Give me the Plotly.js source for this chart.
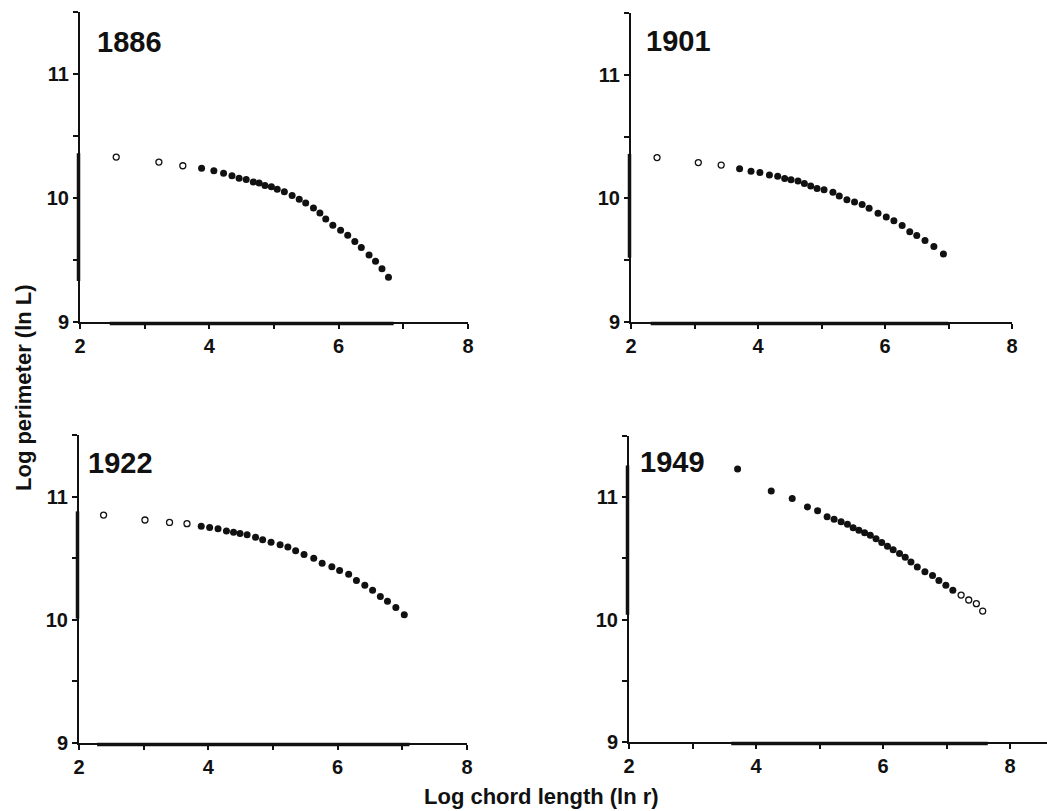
<!DOCTYPE html>
<html>
<head>
<meta charset="utf-8">
<script src="https://cdn.plot.ly/plotly-3.0.1.min.js"></script>
<style>html,body{margin:0;padding:0;background:#fff;}#chart{width:1047px;height:811px;}</style>
</head>
<body>
<div id="chart"></div>
<script>
// ---- Data ----
const years = ["1886", "1901", "1922", "1949"];

// 1886
const x1886Open = [2.56, 3.22, 3.59];
const y1886Open = [10.33, 10.29, 10.26];
const x1886 = [3.88, 4.07, 4.22, 4.35, 4.46, 4.57, 4.68, 4.77, 4.86, 4.96, 5.05, 5.16, 5.28, 5.39, 5.49, 5.61, 5.71, 5.80, 5.91, 6.03, 6.14, 6.25, 6.35, 6.47, 6.57, 6.67, 6.77];
const y1886 = [10.24, 10.22, 10.20, 10.18, 10.16, 10.15, 10.13, 10.12, 10.10, 10.09, 10.07, 10.05, 10.02, 9.99, 9.96, 9.92, 9.88, 9.83, 9.78, 9.74, 9.70, 9.65, 9.60, 9.54, 9.49, 9.43, 9.36];

// 1901
const x1901Open = [2.41, 3.06, 3.42];
const y1901Open = [10.33, 10.29, 10.27];
const x1901 = [3.71, 3.89, 4.03, 4.18, 4.31, 4.42, 4.52, 4.63, 4.73, 4.83, 4.93, 5.04, 5.18, 5.28, 5.40, 5.52, 5.64, 5.75, 5.89, 6.02, 6.14, 6.27, 6.39, 6.50, 6.63, 6.77, 6.92];
const y1901 = [10.24, 10.22, 10.21, 10.19, 10.18, 10.16, 10.15, 10.14, 10.12, 10.10, 10.08, 10.07, 10.05, 10.02, 9.99, 9.97, 9.95, 9.92, 9.88, 9.85, 9.82, 9.78, 9.73, 9.70, 9.66, 9.61, 9.55];

// 1922
const x1922Open = [2.38, 3.02, 3.40, 3.67];
const y1922Open = [10.85, 10.81, 10.79, 10.78];
const x1922 = [3.89, 4.02, 4.15, 4.28, 4.39, 4.49, 4.60, 4.73, 4.84, 4.97, 5.11, 5.23, 5.35, 5.48, 5.63, 5.76, 5.91, 6.03, 6.17, 6.29, 6.42, 6.54, 6.66, 6.77, 6.90, 7.03];
const y1922 = [10.76, 10.75, 10.74, 10.72, 10.71, 10.70, 10.69, 10.67, 10.65, 10.63, 10.61, 10.59, 10.56, 10.53, 10.50, 10.46, 10.43, 10.40, 10.37, 10.32, 10.28, 10.24, 10.19, 10.15, 10.10, 10.04];

// 1949
const x1949 = [3.71, 4.24, 4.57, 4.81, 4.97, 5.12, 5.23, 5.34, 5.44, 5.53, 5.62, 5.71, 5.80, 5.89, 5.98, 6.07, 6.16, 6.26, 6.35, 6.44, 6.54, 6.66, 6.78, 6.88, 6.99, 7.10];
const y1949 = [11.23, 11.05, 10.99, 10.92, 10.89, 10.84, 10.82, 10.80, 10.78, 10.75, 10.73, 10.71, 10.69, 10.66, 10.63, 10.60, 10.57, 10.54, 10.51, 10.47, 10.43, 10.39, 10.36, 10.32, 10.28, 10.24];
const x1949Open = [7.23, 7.35, 7.47, 7.57];
const y1949Open = [10.20, 10.16, 10.13, 10.07];

const xTickVals = [2, 3, 4, 5, 6, 7, 8];
const xTickText = ["2", "", "4", "", "6", "", "8"];
const yTickVals = [9, 9.5, 10, 10.5, 11, 11.5];
const yTickText = ["9", "", "10", "", "11", ""];

const xTitle = "Log chord length (ln r)";
const yTitle = "Log perimeter (ln L)";

// ---- Layout geometry ----
const W = 1047, H = 811;
const panels = [
  {name: "1886", xo: x1886Open, yo: y1886Open, xf: x1886, yf: y1886, px: [80, 468], py: [12, 322], xr: [2, 8], lab: [95, 42]},
  {name: "1901", xo: x1901Open, yo: y1901Open, xf: x1901, yf: y1901, px: [631, 1012], py: [13, 322], xr: [2, 8], lab: [644, 41]},
  {name: "1922", xo: x1922Open, yo: y1922Open, xf: x1922, yf: y1922, px: [79, 467], py: [435, 743], xr: [2, 8], lab: [86, 463]},
  {name: "1949", xo: x1949Open, yo: y1949Open, xf: x1949, yf: y1949, px: [629, 1047], py: [436, 742], xr: [2, 2 + (1047 - 629) / (381 / 6)], lab: [638, 462]}
];

const font = "Liberation Sans, Arial, Helvetica, sans-serif";
const tickFont = {family: "Liberation Sans", size: 20, color: "#111"};
const bold = s => (s ? "<b>" + s + "</b>" : "");
const traces = [];
const shapes = [];
const annotations = [];
const layout = {
  width: W, height: H,
  margin: {l: 0, r: 0, t: 0, b: 0},
  paper_bgcolor: "#fff", plot_bgcolor: "#fff",
  showlegend: false,
  font: {family: font, color: "#111", size: 20},
  shapes: shapes, annotations: annotations
};

panels.forEach((p, i) => {
  const n = i + 1;
  const xa = "x" + (n === 1 ? "" : n), ya = "y" + (n === 1 ? "" : n);
  const xk = "xaxis" + (n === 1 ? "" : n), yk = "yaxis" + (n === 1 ? "" : n);
  const xd = [p.px[0] / W, p.px[1] / W];
  const yd = [(H - p.py[1]) / H, (H - p.py[0]) / H];
  layout[xk] = {
    domain: xd, range: p.xr, anchor: ya,
    showline: true, linewidth: 2, linecolor: "#111", mirror: false,
    showgrid: false, zeroline: false,
    ticks: "outside", ticklen: 5, tickwidth: 2, tickcolor: "#111",
    tickmode: "array", tickvals: xTickVals, ticktext: xTickText.map(bold),
    tickfont: tickFont
  };
  layout[yk] = {
    domain: yd, range: [9, 11.5], anchor: xa,
    showline: true, linewidth: 2, linecolor: "#111",
    showgrid: false, zeroline: false,
    ticks: "outside", ticklen: 5, tickwidth: 2, tickcolor: "#111",
    tickmode: "array", tickvals: yTickVals, ticktext: yTickText.map(bold),
    tickfont: tickFont
  };
  traces.push({
    x: p.xo, y: p.yo, xaxis: xa, yaxis: ya, type: "scatter", mode: "markers",
    marker: {symbol: "circle-open", size: 6, color: "#111", line: {width: 1.3, color: "#111"}},
    cliponaxis: false, hoverinfo: "skip"
  });
  traces.push({
    x: p.xf, y: p.yf, xaxis: xa, yaxis: ya, type: "scatter", mode: "markers",
    marker: {symbol: "circle", size: 7, color: "#111"},
    cliponaxis: false, hoverinfo: "skip"
  });
  // thickened axis segments spanning the data range
  const allX = p.xo.concat(p.xf), allY = p.yo.concat(p.yf);
  const xmin = Math.min(...allX) - 0.1, xmax = Math.max(...allX) + 0.08;
  const ymin = Math.min(...allY) - 0.03, ymax = Math.max(...allY) + 0.03;
  shapes.push({type: "line", xref: xa, yref: "paper", x0: xmin, x1: xmax, y0: yd[0] - 1.5 / H, y1: yd[0] - 1.5 / H,
    line: {color: "#111", width: 3.5}, layer: "above"});
  shapes.push({type: "line", xref: "paper", yref: ya, x0: xd[0] - 1.5 / W, x1: xd[0] - 1.5 / W, y0: ymin, y1: ymax,
    line: {color: "#111", width: 3.5}, layer: "above"});
  annotations.push({
    xref: xa + " domain", yref: ya + " domain", x: (p.lab[0] - p.px[0]) / (p.px[1] - p.px[0]),
    y: (p.py[1] - p.lab[1]) / (p.py[1] - p.py[0]), xanchor: "left", yanchor: "middle",
    text: "<b>" + p.name + "</b>", showarrow: false,
    font: {family: font, size: 29, color: "#111"}
  });
});

annotations.push({xref: "paper", yref: "paper", x: 541 / W, y: (H - 796) / H, xanchor: "center", yanchor: "middle",
  text: "<b>" + xTitle + "</b>", showarrow: false, font: {family: font, size: 22, color: "#111"}});
annotations.push({xref: "paper", yref: "paper", x: 24 / W, y: (H - 388) / H, xanchor: "center", yanchor: "middle",
  text: "<b>" + yTitle + "</b>", textangle: -90, showarrow: false, font: {family: font, size: 22, color: "#111"}});

Plotly.newPlot("chart", traces, layout, {staticPlot: true});
</script>
</body>
</html>
